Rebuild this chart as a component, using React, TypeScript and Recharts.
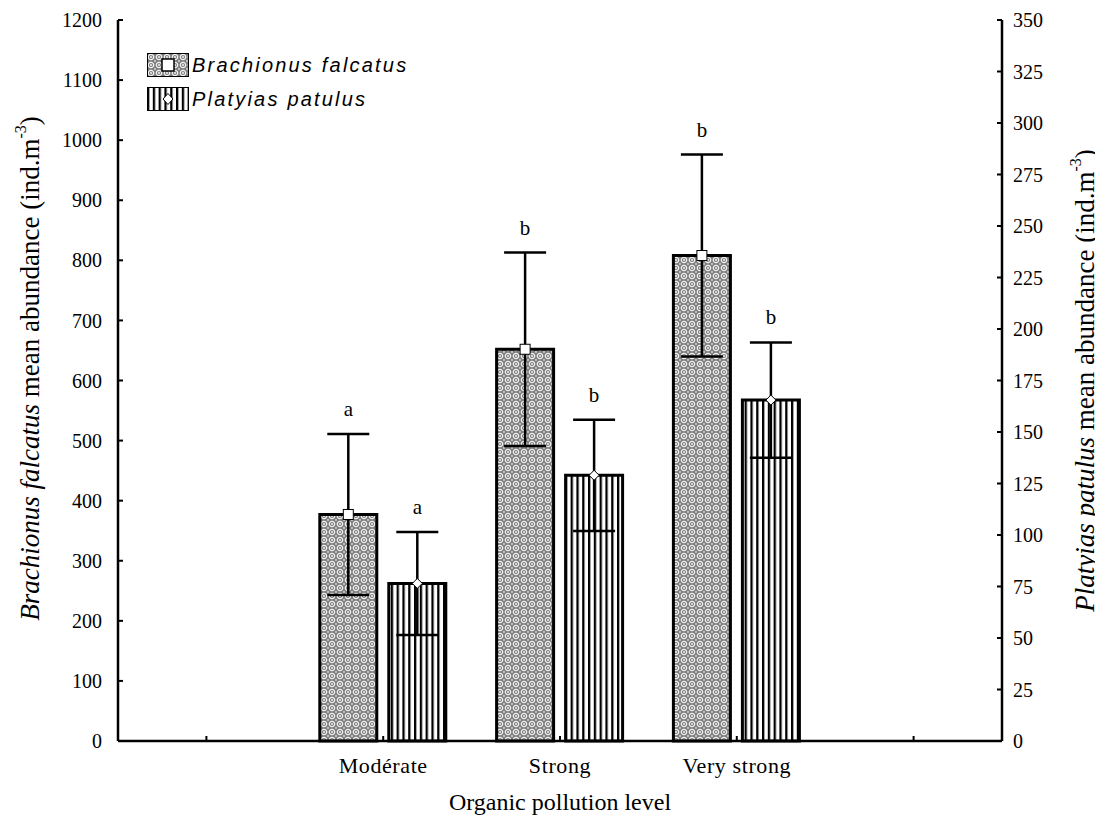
import { Bar, ComposedChart, ErrorBar, LabelList, Legend, XAxis, YAxis } from "recharts";

// pollution levels; the outer two slots are empty on the original figure
const levels = ["", "Modérate", "Strong", "Very strong", ""];

const brachionusMean = [null, 377, 652, 808, null];
const brachionusSd = [null, 134, 161, 168, null];
const brachionusGroup = ["", "a", "b", "b", ""];

const platyiasMean = [null, 76.5, 129, 165.5, null];
const platyiasSd = [null, 25, 27, 28, null];
const platyiasGroup = ["", "a", "b", "b", ""];

const leftTicks = [0, 100, 200, 300, 400, 500, 600, 700, 800, 900, 1000, 1100, 1200];
const rightTicks = [0, 25, 50, 75, 100, 125, 150, 175, 200, 225, 250, 275, 300, 325, 350];

const data = levels.map((level, i) => ({
  slot: `slot-${i}`,
  level,
  bf: brachionusMean[i],
  bfErr: brachionusSd[i],
  pp: platyiasMean[i],
  ppErr: platyiasSd[i],
}));

const SERIF = "'Liberation Serif', 'Times New Roman', serif";
const SANS = "'Liberation Sans', Arial, sans-serif";
const yTickStyle = { fill: "#000", fontSize: 20, fontFamily: SERIF };
const xTickStyle = { fill: "#000", fontSize: 22, fontFamily: SERIF, letterSpacing: 0.6 };

function Patterns() {
  return (
    <svg width={0} height={0} style={{ position: "absolute" }}>
      <defs>
        <pattern id="bfFill" width={8} height={8} patternUnits="userSpaceOnUse">
          <rect width={8} height={8} fill="#7e7e7e" />
          <circle cx={4} cy={4} r={2.7} fill="none" stroke="#f4f4f4" strokeWidth={1.2} />
          <circle cx={4} cy={4} r={0.9} fill="#fff" />
          <circle cx={0} cy={0} r={0.9} fill="#e0e0e0" />
          <circle cx={8} cy={8} r={0.9} fill="#e0e0e0" />
          <circle cx={0} cy={8} r={0.9} fill="#e0e0e0" />
          <circle cx={8} cy={0} r={0.9} fill="#e0e0e0" />
        </pattern>
        <pattern id="ppFill" width={5.8} height={6} patternUnits="userSpaceOnUse">
          <rect width={5.8} height={6} fill="#fff" />
          <rect width={2.3} height={6} fill="#000" />
        </pattern>
      </defs>
    </svg>
  );
}

function meanLabel(kind: "square" | "diamond", means: (number | null)[], sd: (number | null)[], groups: string[]) {
  return (props: any) => {
    const { value } = props;
    const box = props.viewBox ?? props;
    const { x, y, width, height } = box;
    if (value == null || !height) return null;
    const slot = means.indexOf(value);
    const cx = x + width / 2;
    const errTop = y - (sd[slot] ?? 0) * (height / value);
    return (
      <g>
        {kind === "square" ? (
          <rect x={cx - 5} y={y - 5} width={10} height={10} fill="#fff" stroke="#000" strokeWidth={1} />
        ) : (
          <polygon
            points={`${cx},${y - 5} ${cx + 5},${y} ${cx},${y + 5} ${cx - 5},${y}`}
            fill="#fff"
            stroke="#000"
            strokeWidth={1}
          />
        )}
        <text x={cx} y={errTop - 18} textAnchor="middle" fontSize={21} fontFamily={SERIF} fill="#000">
          {groups[slot]}
        </text>
      </g>
    );
  };
}

function AxisTitle({ viewBox, dx, dy = 0, species, rest }: any) {
  const x = viewBox.x + dx;
  const y = viewBox.y + viewBox.height / 2 + dy;
  return (
    <text
      x={x}
      y={y}
      transform={`rotate(-90 ${x} ${y})`}
      textAnchor="middle"
      dominantBaseline="central"
      fontSize={27}
      fontFamily={SERIF}
      fill="#000"
    >
      <tspan fontStyle="italic">{species}</tspan>
      <tspan>{` ${rest} (ind.m`}</tspan>
      <tspan fontSize={16} dy={-10}>-3</tspan>
      <tspan dy={10}>)</tspan>
    </text>
  );
}

function LegendBox() {
  const items = [
    { name: "Brachionus falcatus", fill: "url(#bfFill)", kind: "square" },
    { name: "Platyias patulus", fill: "url(#ppFill)", kind: "diamond" },
  ];
  return (
    <div style={{ fontFamily: SANS, fontStyle: "italic", fontSize: 20, letterSpacing: 2.2, color: "#000" }}>
      {items.map((item) => (
        <div key={item.name} style={{ display: "flex", alignItems: "center", height: 34 }}>
          <svg width={42} height={24}>
            <rect x={0.5} y={0.5} width={41} height={23} fill={item.fill} stroke="#000" strokeWidth={1} />
            {item.kind === "square" ? (
              <rect x={15} y={6} width={12} height={12} fill="#fff" stroke="#000" strokeWidth={1.5} />
            ) : (
              <polygon points="21,6.5 26,12 21,17.5 16,12" fill="#fff" stroke="#000" strokeWidth={1} />
            )}
          </svg>
          <span style={{ marginLeft: 3 }}>{item.name}</span>
        </div>
      ))}
    </div>
  );
}

export default function App() {
  return (
    <div style={{ position: "relative", width: 1095, height: 819 }}>
      <Patterns />
      <ComposedChart
        width={1095}
        height={819}
        data={data}
        margin={{ top: 12, right: 0, bottom: 0, left: 0 }}
        barGap={12}
        barSize={57}
      >
        <XAxis
          dataKey="slot"
          interval={0}
          height={86}
          tickFormatter={(_v: string, i: number) => levels[i]}
          tick={xTickStyle}
          tickSize={-5}
          tickMargin={21}
          axisLine={{ stroke: "#000", strokeWidth: 2.5 }}
          tickLine={{ stroke: "#000", strokeWidth: 2 }}
          label={{
            content: ({ viewBox }: any) => (
              <text
                x={viewBox.x + viewBox.width / 2}
                y={viewBox.y + 61}
                textAnchor="middle"
                dominantBaseline="central"
                fontSize={24}
                fontFamily={SERIF}
                fill="#000"
              >
                Organic pollution level
              </text>
            ),
          }}
        />
        <XAxis
          xAxisId="top"
          dataKey="slot"
          orientation="top"
          height={0}
          tick={false}
          tickLine={false}
          axisLine={{ stroke: "#000", strokeWidth: 2.5 }}
        />
        <YAxis
          yAxisId="left"
          width={110}
          domain={[0, 1200]}
          ticks={leftTicks}
          interval={0}
          tick={yTickStyle}
          tickSize={-5}
          tickMargin={21}
          axisLine={{ stroke: "#000", strokeWidth: 2.5 }}
          tickLine={{ stroke: "#000", strokeWidth: 2 }}
          label={{
            content: ({ viewBox }: any) => (
              <AxisTitle viewBox={viewBox} dx={22} dy={-12} species="Brachionus falcatus" rest="mean abundance" />
            ),
          }}
        />
        <YAxis
          yAxisId="right"
          orientation="right"
          width={101}
          domain={[0, 350]}
          ticks={rightTicks}
          interval={0}
          tick={yTickStyle}
          tickSize={-5}
          tickMargin={16}
          axisLine={{ stroke: "#000", strokeWidth: 2.5 }}
          tickLine={{ stroke: "#000", strokeWidth: 2 }}
          label={{
            content: ({ viewBox }: any) => (
              <AxisTitle viewBox={viewBox} dx={83} species="Platyias patulus" rest="mean abundance" />
            ),
          }}
        />
        <Legend
          layout="vertical"
          align="center"
          verticalAlign="middle"
          wrapperStyle={{ position: "absolute", top: 40, left: 139, width: "auto" }}
          content={() => <LegendBox />}
        />
        <Bar yAxisId="left" dataKey="bf" fill="url(#bfFill)" stroke="#000" strokeWidth={3} isAnimationActive={false}>
          <ErrorBar dataKey="bfErr" direction="y" width={21} stroke="#000" strokeWidth={2.5} />
          <LabelList dataKey="bf" content={meanLabel("square", brachionusMean, brachionusSd, brachionusGroup)} />
        </Bar>
        <Bar yAxisId="right" dataKey="pp" fill="url(#ppFill)" stroke="#000" strokeWidth={3} isAnimationActive={false}>
          <ErrorBar dataKey="ppErr" direction="y" width={21} stroke="#000" strokeWidth={2.5} />
          <LabelList dataKey="pp" content={meanLabel("diamond", platyiasMean, platyiasSd, platyiasGroup)} />
        </Bar>
      </ComposedChart>
    </div>
  );
}
